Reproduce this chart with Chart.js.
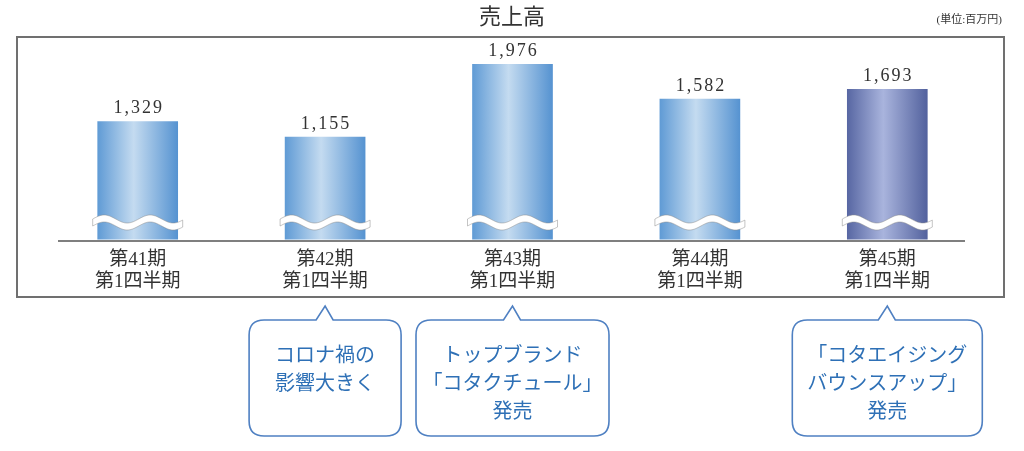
<!DOCTYPE html>
<html lang="ja">
<head>
<meta charset="utf-8">
<title>売上高</title>
<script src="https://cdn.jsdelivr.net/npm/chart.js@4.4.1/dist/chart.umd.min.js"></script>
<style>
  html, body { margin: 0; padding: 0; background: #fff; }
  #wrap { width: 1024px; height: 451px; }
</style>
</head>
<body>
<div id="wrap"><canvas id="salesChart" width="1024" height="451"></canvas></div>
<script>
// data
const chartTitle = '売上高';
const unitLabel = '(単位:百万円)';
const periods = [
  ['第41期', '第1四半期'],
  ['第42期', '第1四半期'],
  ['第43期', '第1四半期'],
  ['第44期', '第1四半期'],
  ['第45期', '第1四半期']
];
const sales = [1329, 1155, 1976, 1582, 1693];
const noteIndex = [1, 2, 4];
const noteLines = [
  ['コロナ禍の', '影響大きく'],
  ['トップブランド', '「コタクチュール」', '発売'],
  ['「コタエイジング', 'バウンスアップ」', '発売']
];

// styles
const serif = '"Liberation Serif", "Noto Sans CJK JP", serif';
const sans = '"Noto Sans CJK JP", sans-serif';
const blueStops = ['#609bd5', '#c4dbf0', '#5693d1'];
const navyStops = ['#5867a3', '#a9b4dd', '#53629e'];
const noteWidths = [152, 193, 190];

function barGradient(ctx) {
  const chart = ctx.chart;
  const xScale = chart.scales.x;
  const stops = ctx.dataIndex === sales.length - 1 ? navyStops : blueStops;
  if (!xScale || !chart.chartArea) return stops[0];
  const cx = xScale.getPixelForValue(ctx.dataIndex);
  const g = chart.ctx.createLinearGradient(cx - 40, 0, cx + 40, 0);
  g.addColorStop(0, stops[0]);
  g.addColorStop(0.45, stops[1]);
  g.addColorStop(1, stops[2]);
  return g;
}

function roundedBubble(c, x, y, w, h, r, tipX, tipY) {
  c.beginPath();
  c.moveTo(x + r, y);
  c.lineTo(tipX - 9, y);
  c.lineTo(tipX, tipY);
  c.lineTo(tipX + 8, y);
  c.lineTo(x + w - r, y);
  c.quadraticCurveTo(x + w, y, x + w, y + r);
  c.lineTo(x + w, y + h - r);
  c.quadraticCurveTo(x + w, y + h, x + w - r, y + h);
  c.lineTo(x + r, y + h);
  c.quadraticCurveTo(x, y + h, x, y + h - r);
  c.lineTo(x, y + r);
  c.quadraticCurveTo(x, y, x + r, y);
  c.closePath();
}

const decorations = {
  id: 'decorations',
  beforeDraw(chart) {
    const c = chart.ctx;
    c.save();
    c.fillStyle = '#fff';
    c.fillRect(0, 0, chart.width, chart.height);
    c.strokeStyle = '#707070';
    c.lineWidth = 2;
    c.strokeRect(17, 37, 987, 260);
    c.restore();
  },
  afterDatasetsDraw(chart) {
    const c = chart.ctx;
    const meta = chart.getDatasetMeta(0);
    const bottom = chart.chartArea.bottom;
    c.save();
    meta.data.forEach((bar, i) => {
      // wavy break
      const x0 = bar.x - 45, x1 = bar.x + 45, yc = bottom - 22, amp = 4, band = 7;
      const wave = x => yc - amp * Math.sin((x - x0) * 2 * Math.PI / 46);
      c.beginPath();
      for (let x = x0; x <= x1; x++) c.lineTo(x, wave(x));
      for (let x = x1; x >= x0; x--) c.lineTo(x, wave(x) + band);
      c.closePath();
      c.fillStyle = '#fff';
      c.fill();
      c.strokeStyle = 'rgba(140,140,140,0.5)';
      c.lineWidth = 1;
      c.stroke();

      // value label
      c.fillStyle = '#333';
      c.font = '18px ' + serif;
      c.letterSpacing = '2px';
      c.textAlign = 'center';
      c.textBaseline = 'bottom';
      c.fillText(sales[i].toLocaleString('en-US'), bar.x + 1, bar.y - 4);
    });

    // baseline
    c.strokeStyle = '#555';
    c.lineWidth = 1.5;
    c.beginPath();
    c.moveTo(58, bottom);
    c.lineTo(965, bottom);
    c.stroke();
    c.restore();
  },
  afterDraw(chart) {
    const c = chart.ctx;
    c.save();
    c.letterSpacing = '0px';
    c.fillStyle = '#333';
    c.textBaseline = 'middle';
    c.textAlign = 'center';
    c.font = '22px ' + serif;
    c.fillText(chartTitle, 512, 18);
    c.textAlign = 'right';
    c.font = '11px ' + serif;
    c.fillText(unitLabel, 1002, 20);

    // callouts
    noteIndex.forEach((idx, n) => {
      const tipX = chart.scales.x.getPixelForValue(idx);
      const w = noteWidths[n];
      const left = tipX - w / 2;
      roundedBubble(c, left, 320, w, 116, 15, tipX, 306);
      c.fillStyle = '#fff';
      c.fill();
      c.strokeStyle = '#4f80c2';
      c.lineWidth = 1.6;
      c.stroke();
      c.fillStyle = '#2e70b6';
      c.font = '20px ' + sans;
      c.textAlign = 'center';
      noteLines[n].forEach((line, k) => {
        c.fillText(line, tipX, 354 + k * 28);
      });
    });
    c.restore();
  }
};

new Chart(document.getElementById('salesChart').getContext('2d'), {
  type: 'bar',
  data: {
    labels: periods,
    datasets: [{
      data: sales,
      backgroundColor: barGradient,
      borderWidth: 0,
      barThickness: 80
    }]
  },
  options: {
    responsive: false,
    animation: false,
    layout: { padding: { left: 44, right: 43, top: 40, bottom: 150 } },
    plugins: {
      legend: { display: false },
      tooltip: { enabled: false }
    },
    scales: {
      x: {
        grid: { display: false, drawTicks: false },
        border: { display: false },
        ticks: {
          color: '#333',
          padding: 8,
          autoSkip: false,
          maxRotation: 0,
          font: { family: serif, size: 19, lineHeight: '22px' }
        }
      },
      y: {
        display: false,
        min: -20,
        max: 2250
      }
    }
  },
  plugins: [decorations]
});
</script>
</body>
</html>
